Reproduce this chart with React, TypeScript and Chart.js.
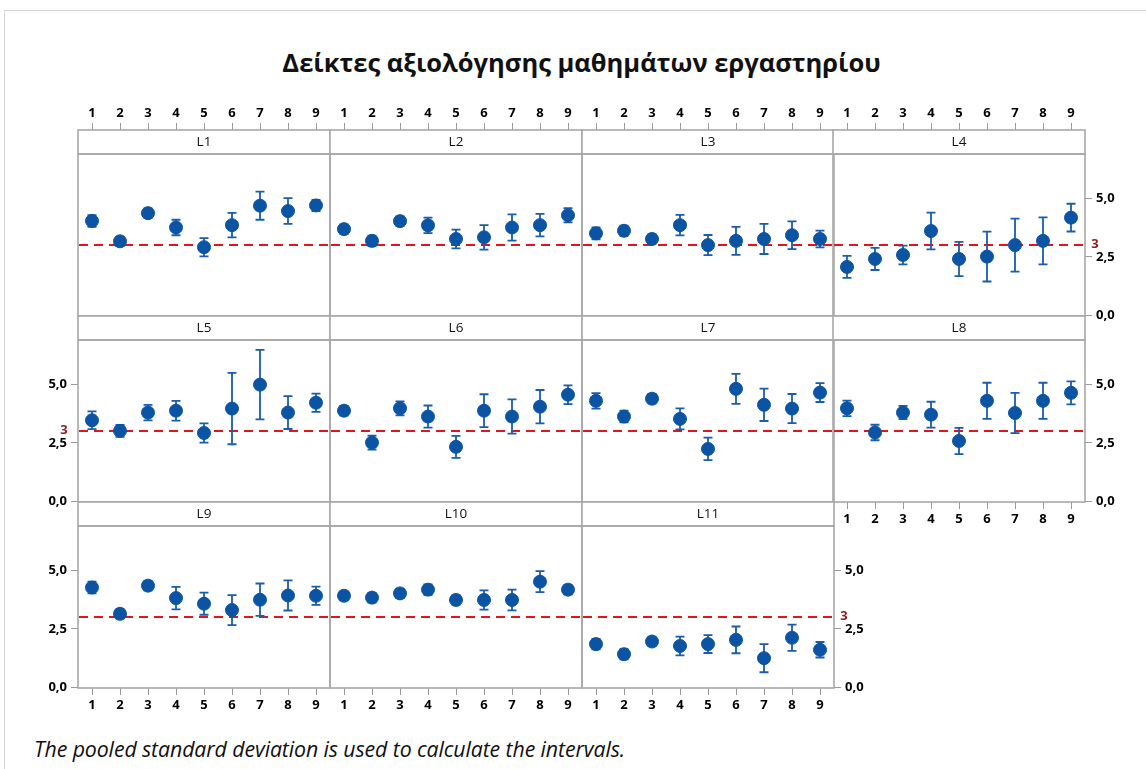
import React, { useEffect, useRef } from 'react';
import { Chart, registerables } from 'chart.js';

Chart.register(...registerables);

// ---------- data ----------
const TITLE = 'Δείκτες αξιολόγησης μαθημάτων εργαστηρίου';
const FOOTNOTE = 'The pooled standard deviation is used to calculate the intervals.';
const CATEGORIES = ['1', '2', '3', '4', '5', '6', '7', '8', '9'];
const Y_TICKS = [0, 2.5, 5];
const REF_VALUE = 3;
const REF_LABEL = '3';

const meanL1 = [4.03, 3.16, 4.36, 3.75, 2.91, 3.85, 4.68, 4.45, 4.69];
const ciL1 = [0.25, 0.2, 0.2, 0.33, 0.39, 0.52, 0.6, 0.55, 0.24];
const meanL2 = [3.68, 3.18, 4.02, 3.84, 3.26, 3.33, 3.75, 3.85, 4.27];
const ciL2 = [0.2, 0.22, 0.2, 0.33, 0.4, 0.52, 0.56, 0.48, 0.3];
const meanL3 = [3.5, 3.61, 3.26, 3.85, 3.0, 3.18, 3.26, 3.42, 3.26];
const ciL3 = [0.25, 0.22, 0.2, 0.44, 0.43, 0.6, 0.64, 0.59, 0.36];
const meanL4 = [2.07, 2.41, 2.58, 3.6, 2.41, 2.51, 3.0, 3.18, 4.17];
const ciL4 = [0.47, 0.47, 0.4, 0.78, 0.73, 1.06, 1.13, 1.0, 0.59];
const meanL5 = [3.46, 3.01, 3.79, 3.87, 2.92, 3.96, 4.98, 3.79, 4.21];
const ciL5 = [0.38, 0.25, 0.33, 0.42, 0.41, 1.52, 1.48, 0.7, 0.39];
const meanL6 = [3.87, 2.51, 3.97, 3.62, 2.33, 3.87, 3.62, 4.04, 4.55];
const ciL6 = [0.2, 0.3, 0.3, 0.47, 0.47, 0.7, 0.73, 0.71, 0.4];
const meanL7 = [4.29, 3.62, 4.38, 3.52, 2.24, 4.8, 4.12, 3.96, 4.64];
const ciL7 = [0.33, 0.25, 0.2, 0.45, 0.48, 0.64, 0.69, 0.62, 0.4];
const meanL8 = [3.97, 2.94, 3.79, 3.7, 2.58, 4.29, 3.77, 4.29, 4.63];
const ciL8 = [0.33, 0.33, 0.28, 0.55, 0.56, 0.77, 0.86, 0.77, 0.49];
const meanL9 = [4.26, 3.14, 4.34, 3.81, 3.57, 3.3, 3.74, 3.92, 3.91];
const ciL9 = [0.25, 0.2, 0.2, 0.48, 0.47, 0.64, 0.69, 0.64, 0.39];
const meanL10 = [3.91, 3.83, 4.01, 4.17, 3.73, 3.73, 3.73, 4.51, 4.17];
const ciL10 = [0.2, 0.2, 0.2, 0.22, 0.2, 0.41, 0.44, 0.45, 0.2];
const meanL11 = [1.85, 1.42, 1.96, 1.77, 1.85, 2.03, 1.25, 2.12, 1.61];
const ciL11 = [0.22, 0.22, 0.2, 0.4, 0.38, 0.57, 0.6, 0.56, 0.33];

// ---------- layout / style ----------
const COL_LEFT = [78, 330, 582, 833];
const COL_W = 252;
const ROW_TOP = [130, 316, 502];
const STRIP_H = 24;
const PLOT_H = 162;
const M = { l: 50, r: 50, t: 32, b: 32 };
const Y_MIN = -0.02;
const Y_PLOT_MAX = 6.88;

const FONT = "'Open Sans', 'Noto Sans', 'DejaVu Sans', sans-serif";
const BLUE = '#0B54A4';
const BAR_BLUE = '#1A5DAC';
const RED = '#E3141B';
const DARK_RED = '#8E1A1A';
const FRAME_GRAY = '#A8A8A8';
const TICK_GRAY = '#9A9A9A';

type Side = 'left' | 'right' | 'top' | 'bottom' | null;
interface PanelCfg {
  name: string;
  mean: number[];
  ci: number[];
  row: number;
  col: number;
  xAxis: Side;
  yAxis: Side;
  refLabel: Side;
}

const PANELS: PanelCfg[] = [
  { name: 'L1', mean: meanL1, ci: ciL1, row: 0, col: 0, xAxis: 'top', yAxis: null, refLabel: null },
  { name: 'L2', mean: meanL2, ci: ciL2, row: 0, col: 1, xAxis: 'top', yAxis: null, refLabel: null },
  { name: 'L3', mean: meanL3, ci: ciL3, row: 0, col: 2, xAxis: 'top', yAxis: null, refLabel: null },
  { name: 'L4', mean: meanL4, ci: ciL4, row: 0, col: 3, xAxis: 'top', yAxis: 'right', refLabel: 'right' },
  { name: 'L5', mean: meanL5, ci: ciL5, row: 1, col: 0, xAxis: null, yAxis: 'left', refLabel: 'left' },
  { name: 'L6', mean: meanL6, ci: ciL6, row: 1, col: 1, xAxis: null, yAxis: null, refLabel: null },
  { name: 'L7', mean: meanL7, ci: ciL7, row: 1, col: 2, xAxis: null, yAxis: null, refLabel: null },
  { name: 'L8', mean: meanL8, ci: ciL8, row: 1, col: 3, xAxis: 'bottom', yAxis: 'right', refLabel: null },
  { name: 'L9', mean: meanL9, ci: ciL9, row: 2, col: 0, xAxis: 'bottom', yAxis: 'left', refLabel: null },
  { name: 'L10', mean: meanL10, ci: ciL10, row: 2, col: 1, xAxis: 'bottom', yAxis: null, refLabel: null },
  { name: 'L11', mean: meanL11, ci: ciL11, row: 2, col: 2, xAxis: 'bottom', yAxis: 'right', refLabel: 'right' },
];

function decorPlugin(cfg: PanelCfg) {
  return {
    id: 'panelDecor',
    beforeDatasetsDraw(chart: any) {
      const { ctx, chartArea: ca } = chart;
      const ys = chart.scales.y;
      const plotTop = ca.top + STRIP_H;
      ctx.save();
      // strip
      ctx.fillStyle = '#FFFFFF';
      ctx.fillRect(ca.left, ca.top, ca.right - ca.left, STRIP_H);
      ctx.strokeStyle = FRAME_GRAY;
      ctx.lineWidth = 1.6;
      ctx.strokeRect(ca.left, ca.top, ca.right - ca.left, STRIP_H);
      ctx.fillStyle = '#111';
      ctx.font = `13.5px ${FONT}`;
      ctx.textAlign = 'center';
      ctx.textBaseline = 'middle';
      ctx.fillText(cfg.name, (ca.left + ca.right) / 2, ca.top + STRIP_H / 2);
      // plot frame
      ctx.strokeRect(ca.left, plotTop, ca.right - ca.left, ca.bottom - plotTop);
      // reference line
      const yRef = ys.getPixelForValue(REF_VALUE);
      ctx.strokeStyle = RED;
      ctx.lineWidth = 2;
      ctx.setLineDash([9, 6]);
      ctx.beginPath();
      ctx.moveTo(ca.left + 1, yRef);
      ctx.lineTo(ca.right - 1, yRef);
      ctx.stroke();
      ctx.setLineDash([]);
      // error bars
      const meta = chart.getDatasetMeta(0);
      ctx.strokeStyle = BAR_BLUE;
      ctx.lineWidth = 1.8;
      cfg.mean.forEach((m, i) => {
        const x = meta.data[i].x;
        const yHi = ys.getPixelForValue(m + cfg.ci[i]);
        const yLo = ys.getPixelForValue(m - cfg.ci[i]);
        ctx.beginPath();
        ctx.moveTo(x, yHi);
        ctx.lineTo(x, yLo);
        ctx.moveTo(x - 4.5, yHi);
        ctx.lineTo(x + 4.5, yHi);
        ctx.moveTo(x - 4.5, yLo);
        ctx.lineTo(x + 4.5, yLo);
        ctx.stroke();
      });
      ctx.restore();
    },
    afterDraw(chart: any) {
      if (!cfg.refLabel) return;
      const { ctx, chartArea: ca } = chart;
      const yRef = chart.scales.y.getPixelForValue(REF_VALUE);
      ctx.save();
      ctx.fillStyle = DARK_RED;
      ctx.font = `bold 13px ${FONT}`;
      ctx.textAlign = 'center';
      ctx.textBaseline = 'middle';
      const x = cfg.refLabel === 'right' ? ca.right + 10 : ca.left - 14;
      ctx.fillText(REF_LABEL, x, yRef - 1);
      ctx.restore();
    },
  };
}

function Panel({ cfg }: { cfg: PanelCfg }) {
  const ref = useRef<HTMLCanvasElement>(null);
  const w = M.l + COL_W + M.r;
  const h = M.t + STRIP_H + PLOT_H + M.b;
  useEffect(() => {
    if (!ref.current) return;
    const yMax = Y_MIN + ((Y_PLOT_MAX - Y_MIN) * (STRIP_H + PLOT_H)) / PLOT_H;
    const tickFont = { family: FONT, size: 13, weight: 'bold' as const };
    const chart = new Chart(ref.current, {
      type: 'line',
      data: {
        labels: CATEGORIES,
        datasets: [
          {
            data: cfg.mean,
            showLine: false,
            pointRadius: 6.5,
            pointHoverRadius: 6.5,
            pointBackgroundColor: BLUE,
            pointBorderColor: BLUE,
            pointBorderWidth: 1,
          },
        ],
      },
      options: {
        responsive: false,
        animation: false,
        events: [],
        layout: {
          padding: {
            left: cfg.yAxis === 'left' ? 0 : M.l,
            right: cfg.yAxis === 'right' ? 0 : M.r,
            top: cfg.xAxis === 'top' ? 0 : M.t,
            bottom: cfg.xAxis === 'bottom' ? 0 : M.b,
          },
        },
        plugins: {
          legend: { display: false },
          tooltip: { enabled: false },
          title: { display: false },
        },
        scales: {
          x: {
            type: 'category',
            position: (cfg.xAxis || 'bottom') as any,
            display: !!cfg.xAxis,
            offset: true,
            grid: {
              display: true,
              offset: false,
              drawOnChartArea: false,
              drawTicks: true,
              tickLength: 7,
              color: TICK_GRAY,
              lineWidth: 1,
            },
            border: { display: false },
            ticks: { font: tickFont, color: '#000', padding: 2, maxRotation: 0, autoSkip: false },
            afterFit: (s: any) => {
              s.height = cfg.xAxis ? (cfg.xAxis === 'top' ? M.t : M.b) : 0;
            },
          },
          y: {
            type: 'linear',
            position: (cfg.yAxis || 'left') as any,
            display: !!cfg.yAxis,
            min: Y_MIN,
            max: yMax,
            afterBuildTicks: (s: any) => {
              s.ticks = Y_TICKS.map((v) => ({ value: v }));
            },
            grid: {
              display: true,
              drawOnChartArea: false,
              drawTicks: true,
              tickLength: 7,
              color: TICK_GRAY,
              lineWidth: 1,
            },
            border: { display: false },
            ticks: {
              font: tickFont,
              color: '#000',
              padding: 4,
              callback: (v: any) => Number(v).toFixed(1).replace('.', ','),
            },
            afterFit: (s: any) => {
              s.width = cfg.yAxis ? (cfg.yAxis === 'left' ? M.l : M.r) : 0;
            },
          },
        },
      },
      plugins: [decorPlugin(cfg)],
    } as any);
    return () => chart.destroy();
  }, [cfg]);
  return (
    <canvas
      ref={ref}
      width={w}
      height={h}
      style={{
        position: 'absolute',
        left: COL_LEFT[cfg.col] - M.l,
        top: ROW_TOP[cfg.row] - M.t,
        width: w,
        height: h,
      }}
    />
  );
}

export default function App() {
  return (
    <div
      style={{
        position: 'absolute',
        left: 0,
        top: 0,
        width: 1146,
        height: 769,
        background: '#fff',
        overflow: 'hidden',
        fontFamily: FONT,
      }}
    >
      <div
        style={{
          position: 'absolute',
          left: 4,
          top: 10,
          width: 1160,
          height: 780,
          borderTop: '1px solid #D6D6D6',
          borderLeft: '1px solid #D6D6D6',
        }}
      />
      <div
        style={{
          position: 'absolute',
          left: 78,
          width: 1007,
          top: 43,
          lineHeight: '38px',
          textAlign: 'center',
          fontWeight: 700,
          fontSize: 25.5,
          color: '#111',
        }}
      >
        {TITLE}
      </div>
      {PANELS.map((p) => (
        <Panel key={p.name} cfg={p} />
      ))}
      <div
        style={{
          position: 'absolute',
          left: 34,
          top: 736,
          lineHeight: '26px',
          fontStyle: 'italic',
          fontSize: 21.3,
          letterSpacing: '-0.1px',
          color: '#111',
        }}
      >
        {FOOTNOTE}
      </div>
    </div>
  );
}
